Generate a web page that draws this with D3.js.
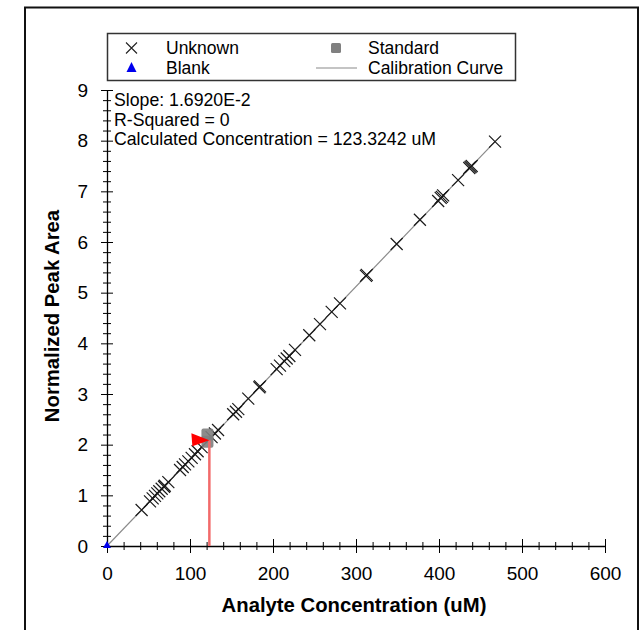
<!DOCTYPE html>
<html><head><meta charset="utf-8">
<script src="https://cdn.jsdelivr.net/npm/d3@7"></script>
<style>body{margin:0;background:#fff;}svg{display:block;font-family:"Liberation Sans",Arial,sans-serif;}</style>
</head><body>
<svg id="chart" width="641" height="630"></svg>
<script>
// ---- data ----
const unknownX = [41.7,51.8,55,57.8,60.6,63,65.9,68.7,69.6,73.9,88,91.2,94,98,102,106,109.2,114,126,130,133.8,152,155.4,158.2,170.2,183.5,184.4,204.4,208.4,213.6,216.5,219.7,226.5,243.7,256.6,270.7,280.7,312,313,349,377,399,402,403.5,405,423,436.5,438,439.4,467.5];
const unknownY = [0.71,0.88,0.94,0.99,1.04,1.08,1.13,1.17,1.19,1.26,1.50,1.56,1.61,1.67,1.74,1.81,1.87,1.95,2.15,2.22,2.29,2.60,2.65,2.70,2.91,3.13,3.15,3.49,3.56,3.65,3.70,3.75,3.87,4.16,4.38,4.62,4.79,5.33,5.35,5.96,6.44,6.81,6.87,6.89,6.92,7.22,7.46,7.48,7.50,7.98];
const standardX = [121, 121];
const standardY = [2.2, 2.06];
const blankX = [0];
const blankY = [0];
const curveX = [0, 467.5];
const curveY = [0, 7.98];
const calcX = 123.3242;
const calcY = 2.0867;
const xTicks = [0,100,200,300,400,500,600];
const yTicks = [0,1,2,3,4,5,6,7,8,9];
const xLabel = "Analyte Concentration (uM)";
const yLabel = "Normalized Peak Area";
const infoLines = ["Slope: 1.6920E-2", "R-Squared = 0", "Calculated Concentration = 123.3242 uM"];
const legendItems = ["Unknown", "Standard", "Blank", "Calibration Curve"];

// ---- chart ----
const svg = d3.select("#chart");
const x = d3.scaleLinear().domain([0,600]).range([107,605]);
const y = d3.scaleLinear().domain([0,9]).range([546,90]);

// outer border
svg.append("rect").attr("x",25).attr("y",7.5).attr("width",613).attr("height",640)
  .attr("fill","none").attr("stroke","#111").attr("stroke-width",2);

// axes
const minorX = d3.range(0,601,20).filter(v => v % 100 !== 0);
const minorY = d3.range(0,9.01,0.2).map(v => +v.toFixed(1)).filter(v => Math.abs(v - Math.round(v)) > 1e-6);

const gx = svg.append("g").attr("transform","translate(0,546)");
gx.call(d3.axisBottom(x).tickValues(xTicks).tickSize(7).tickSizeOuter(0).tickPadding(14).tickFormat(d3.format("d")));
gx.selectAll(".tick line").attr("y1",-7).attr("y2",7).attr("stroke","#000");
gx.select(".domain").attr("stroke","#000").attr("stroke-width",1.3);
gx.selectAll(".tick text").attr("font-size",19).attr("fill","#000").attr("font-family","Liberation Sans, Arial, sans-serif");
const gxm = svg.append("g").attr("transform","translate(0,546)");
gxm.call(d3.axisBottom(x).tickValues(minorX).tickSize(4).tickFormat(""));
gxm.select(".domain").remove();
gxm.selectAll(".tick line").attr("y1",-4).attr("y2",4).attr("stroke","#000");

const gy = svg.append("g").attr("transform","translate(107,0)");
gy.call(d3.axisLeft(y).tickValues(yTicks).tickSize(6).tickSizeOuter(0).tickPadding(13).tickFormat(d3.format("d")));
gy.selectAll(".tick line").attr("x1",-6).attr("x2",6).attr("stroke","#000");
gy.select(".domain").attr("stroke","#000").attr("stroke-width",1.3);
gy.selectAll(".tick text").attr("font-size",19).attr("fill","#000").attr("font-family","Liberation Sans, Arial, sans-serif");
const gym = svg.append("g").attr("transform","translate(107,0)");
gym.call(d3.axisLeft(y).tickValues(minorY).tickSize(4).tickFormat(""));
gym.select(".domain").remove();
gym.selectAll(".tick line").attr("x1",-4).attr("x2",4).attr("stroke","#000");

// axis titles
svg.append("text").attr("x",354).attr("y",612).attr("text-anchor","middle")
  .attr("font-size",20.3).attr("font-weight","bold").text(xLabel);
svg.append("text").attr("transform","translate(59,316) rotate(-90)").attr("text-anchor","middle")
  .attr("font-size",20.3).attr("font-weight","bold").text(yLabel);

// info text
svg.append("g").selectAll("text").data(infoLines).join("text")
  .attr("x",114).attr("y",(d,i)=>106+i*19.5).attr("font-size",17.7).attr("fill","#000").text(d=>d);

// calibration curve
const curve = curveX.map((v,i)=>[v,curveY[i]]);
svg.append("path").datum(curve)
  .attr("d", d3.line().x(d=>x(d[0])).y(d=>y(d[1])))
  .attr("stroke","#8a8a8a").attr("stroke-width",1.2).attr("fill","none");

// unknowns (X markers)
const xm = 6;
const unk = unknownX.map((v,i)=>[v,unknownY[i]]);
svg.append("g").selectAll("path").data(unk).join("path")
  .attr("d", d => { const px=x(d[0]), py=y(d[1]);
    return `M${px-xm},${py-xm}L${px+xm},${py+xm}M${px-xm},${py+xm}L${px+xm},${py-xm}`; })
  .attr("stroke","#1a1a1a").attr("stroke-width",1.2).attr("fill","none");

// standards (gray squares)
const std = standardX.map((v,i)=>[v,standardY[i]]);
svg.append("g").selectAll("rect").data(std).join("rect")
  .attr("x",d=>x(d[0])-6).attr("y",d=>y(d[1])-6).attr("width",12).attr("height",12)
  .attr("rx",2).attr("fill","#808080").attr("fill-opacity",0.9);

// calculated concentration marker
const cx = x(calcX), cy = y(calcY);
svg.append("line").attr("x1",cx).attr("x2",cx).attr("y1",cy).attr("y2",y(0))
  .attr("stroke","#f26a6a").attr("stroke-width",2.5);
svg.append("path").attr("d",`M${cx-18},${cy-7}L${cx},${cy}L${cx-17},${cy+6}Z`).attr("fill","#ff0000");

// blank (blue triangle)
const blank = blankX.map((v,i)=>[v,blankY[i]]);
svg.append("g").selectAll("path").data(blank).join("path")
  .attr("d", d => { const px=x(d[0]), py=y(d[1]); return `M${px},${py-5}L${px+4},${py+2}L${px-4},${py+2}Z`; })
  .attr("fill","#0000ee");

// legend
const lg = svg.append("g");
lg.append("rect").attr("x",107.5).attr("y",33.5).attr("width",408).attr("height",47)
  .attr("fill","#fff").attr("stroke","#333").attr("stroke-width",1.5);
const lx1 = 131.5, lx2 = 336, ly1 = 48, ly2 = 68;
lg.append("path").attr("d",`M${lx1-5.5},${ly1-5.5}L${lx1+5.5},${ly1+5.5}M${lx1-5.5},${ly1+5.5}L${lx1+5.5},${ly1-5.5}`)
  .attr("stroke","#222").attr("stroke-width",1.1);
lg.append("rect").attr("x",lx2-5).attr("y",ly1-5).attr("width",10).attr("height",10).attr("rx",1.5).attr("fill","#808080");
lg.append("path").attr("d",`M${lx1},${ly2-6}L${lx1+5},${ly2+4}L${lx1-5},${ly2+4}Z`).attr("fill","#0000ee");
lg.append("line").attr("x1",316).attr("x2",357).attr("y1",ly2).attr("y2",ly2).attr("stroke","#8a8a8a").attr("stroke-width",1.2);
const legPos = [[166,ly1],[368,ly1],[166,ly2],[368,ly2]];
lg.selectAll("text.leg").data(legendItems).join("text").attr("class","leg")
  .attr("x",(d,i)=>legPos[i][0]).attr("y",(d,i)=>legPos[i][1]+6)
  .attr("font-size",17.5).attr("fill","#000").text(d=>d);
</script>
</body></html>
